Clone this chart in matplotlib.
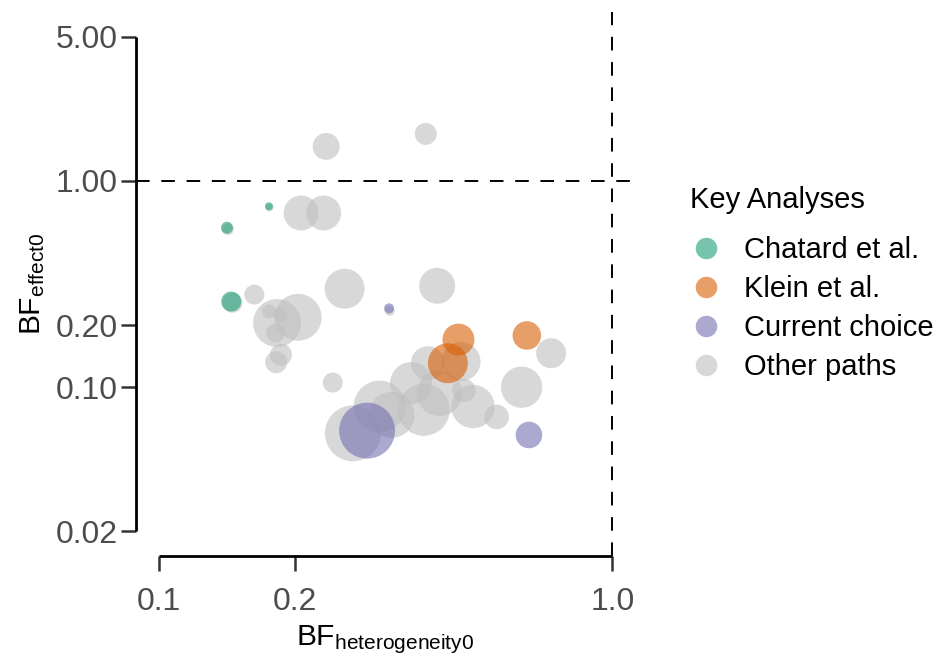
import matplotlib
matplotlib.use("Agg")
import matplotlib.pyplot as plt
from matplotlib.lines import Line2D
import numpy as np

plt.rcParams['font.family'] = ['Liberation Sans', 'DejaVu Sans']
plt.rcParams['mathtext.fontset'] = 'custom'
plt.rcParams['mathtext.rm'] = 'Liberation Sans'
plt.rcParams['mathtext.it'] = 'Liberation Sans'
plt.rcParams['mathtext.default'] = 'regular'

# ---------------- data ----------------
other_x = [0.234, 0.388, 0.206, 0.231, 0.1625, 0.257, 0.411, 0.203, 0.1824, 0.175,
           0.185, 0.181, 0.186, 0.1815, 0.242, 0.733, 0.464, 0.392, 0.631, 0.360,
           0.416, 0.471, 0.493, 0.556, 0.384, 0.307, 0.326, 0.268,
           0.1755, 0.1421, 0.1454, 0.323]
other_y = [1.47, 1.69, 0.699, 0.699, 0.281, 0.300, 0.310, 0.218, 0.2046, 0.233,
           0.225, 0.183, 0.1435, 0.132, 0.1052, 0.146, 0.133, 0.1306, 0.0999, 0.1045,
           0.0933, 0.0963, 0.0805, 0.0717, 0.0776, 0.0805, 0.0733, 0.0597,
           0.743, 0.584, 0.2565, 0.2345]
other_w = [182, 121, 306, 306, 100, 400, 324, 552, 576, 49,
           49, 90, 121, 121, 100, 225, 380, 289, 428, 441,
           515, 137, 471, 151, 676, 676, 529, 784,
           16, 36, 100, 25]

chatard_x = [0.175, 0.1414, 0.1445]
chatard_y = [0.753, 0.593, 0.260]
chatard_w = [16, 36, 100]

klein_x = [0.458, 0.648, 0.434]
klein_y = [0.170, 0.178, 0.1306]
klein_w = [256, 204, 400]

current_x = [0.322, 0.288, 0.655]
current_y = [0.241, 0.0615, 0.0586]
current_w = [25, 784, 177]

groups = ["Chatard et al.", "Klein et al.", "Current choice", "Other paths"]
colors = ["#1B9E77", "#D95F02", "#7570B3", "#BFBFBF"]

x_ticks = [0.1, 0.2, 1.0]
x_ticklabels = ["0.1", "0.2", "1.0"]
y_ticks = [0.02, 0.1, 0.2, 1.0, 5.0]
y_ticklabels = ["0.02", "0.10", "0.20", "1.00", "5.00"]

# ---------------- figure ----------------
W, H = 935, 658
fig = plt.figure(figsize=(W / 100, H / 100), dpi=100)
left, right, top, bottom = 136, 635, 12, 556
ax = fig.add_axes([left / W, (H - bottom) / H, (right - left) / W, (bottom - top) / H])
ax.set_xscale('log')
ax.set_yscale('log')

def area(w):
    return 2.07 * np.asarray(w, dtype=float)

alpha = 0.6
ax.scatter(other_x, other_y, s=area(other_w), color=colors[3], alpha=alpha, linewidths=0, zorder=2)
ax.scatter(chatard_x, chatard_y, s=area(chatard_w), color=colors[0], alpha=alpha, linewidths=0, zorder=3)
ax.scatter(klein_x, klein_y, s=area(klein_w), color=colors[1], alpha=alpha, linewidths=0, zorder=3)
ax.scatter(current_x, current_y, s=area(current_w), color=colors[2], alpha=alpha, linewidths=0, zorder=3)

ax.axhline(1.0, color='black', lw=1.4, dashes=(7.0, 6.0), zorder=1)
ax.axvline(1.0, color='black', lw=1.4, dashes=(7.0, 6.0), zorder=1)

ax.set_xlim(10 ** -1.05, 10 ** 0.05)
ax.set_ylim(10 ** (np.log10(0.02) - 0.12), 10 ** (np.log10(5) + 0.12))

ax.set_xticks(x_ticks)
ax.set_xticklabels(x_ticklabels)
ax.set_yticks(y_ticks)
ax.set_yticklabels(y_ticklabels)
ax.minorticks_off()

for s in ['top', 'right']:
    ax.spines[s].set_visible(False)
ax.spines['left'].set_bounds(0.02, 5)
ax.spines['bottom'].set_bounds(0.1, 1.0)
for s in ['left', 'bottom']:
    ax.spines[s].set_linewidth(2.0)
    ax.spines[s].set_color('black')
    ax.spines[s].set_capstyle('butt')

ax.tick_params(axis='both', which='major', length=11, width=1.8, color='#333333',
               labelcolor='#4D4D4D', labelsize=23)
ax.tick_params(axis='y', pad=2)
ax.tick_params(axis='x', pad=11)

ax.set_xlabel(r'BF$_{heterogeneity0}$', fontsize=21.5, color='black', labelpad=5)
ax.set_ylabel(r'BF$_{effect0}$', fontsize=21.5, color='black', labelpad=6)

fig.text(690 / W, 1 - 200 / H, "Key Analyses", fontsize=21, color='black',
         ha='left', va='center')
handles = [Line2D([0], [0], marker='o', linestyle='none', markersize=15.5,
                  markerfacecolor=c, markeredgewidth=0, alpha=alpha) for c in colors]
leg = ax.legend(handles, groups, loc='upper left',
                bbox_to_anchor=(683 / W, (H - 227) / H), bbox_transform=fig.transFigure,
                frameon=False, fontsize=21, handlelength=1.0,
                handletextpad=0.8, labelspacing=0.38, borderaxespad=0, borderpad=0.3)

fig.savefig("out.png", dpi=100)
